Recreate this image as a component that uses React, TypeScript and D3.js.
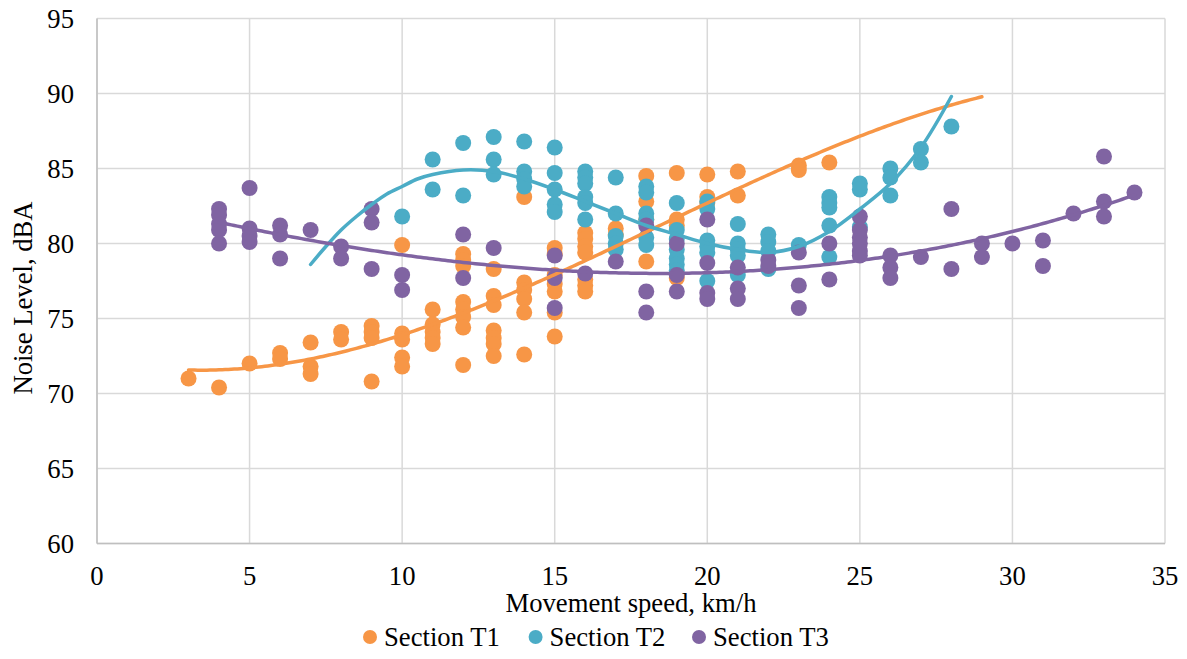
import React from "react";
import * as d3 from "d3";

// ---------- data ----------
const seriesNames = ["Section T1", "Section T2", "Section T3"];
const seriesColors = ["#F79646", "#4BACC6", "#8064A2"];

const t1Speeds = [3, 4, 5, 6, 7, 8, 9, 10, 11, 12, 13, 14, 15, 16, 17, 18, 19, 20, 21, 23, 24];
const t1Levels = [
  [71.0], [70.4], [72.0], [72.7, 72.3], [73.4, 71.8, 71.3], [74.1, 73.6],
  [74.5, 74.1, 73.7, 70.8], [79.9, 74.0, 73.6, 72.4, 71.8], [75.6, 74.6, 74.1, 73.7, 73.3],
  [79.3, 78.9, 78.5, 76.1, 75.6, 75.1, 74.4, 71.9], [78.3, 76.5, 75.9, 74.2, 73.7, 73.3, 72.5],
  [83.1, 77.4, 76.9, 76.3, 75.4, 72.6], [79.7, 79.3, 77.9, 77.3, 76.8, 75.4, 73.8],
  [80.7, 80.3, 79.8, 79.4, 77.6, 77.2, 76.8], [81.0, 80.6], [84.5, 82.8, 81.6, 78.8],
  [84.7, 81.6, 81.2, 77.7], [84.6, 83.1, 82.7], [84.8, 83.2], [85.2, 84.9], [85.4],
];

const t2Speeds = [10, 11, 12, 13, 14, 15, 16, 17, 18, 19, 20, 21, 22, 23, 24, 25, 26, 27, 28];
const t2Levels = [
  [81.8], [85.6, 83.6], [86.7, 83.2], [87.1, 85.6, 84.6], [86.8, 84.8, 84.3, 83.8],
  [86.4, 84.7, 83.6, 82.6, 82.1], [84.8, 84.4, 84.0, 83.1, 82.7, 81.6],
  [84.4, 82.0, 80.5, 80.0, 79.6], [83.8, 83.4, 82.0, 81.6, 80.4, 79.9],
  [82.7, 80.9, 80.3, 79.6, 79.0, 78.6, 78.2], [82.8, 82.3, 80.2, 79.8, 79.4, 77.5],
  [81.3, 80.0, 79.6, 79.2, 77.9], [80.6, 80.1, 79.5, 78.3], [79.9],
  [83.1, 82.7, 82.4, 81.2, 79.1], [84.0, 83.6, 81.1], [85.0, 84.4, 83.2], [86.3, 85.4], [87.8],
];

const t3Speeds = [4, 5, 6, 7, 8, 9, 10, 12, 13, 15, 16, 17, 18, 19, 20, 21, 22, 23, 24, 25, 26, 27, 28, 29, 30, 31, 32, 33, 34];
const t3Levels = [
  [82.3, 81.9, 81.3, 80.9, 80.0], [83.7, 81.0, 80.5, 80.1], [81.2, 80.6, 79.0], [80.9],
  [79.8, 79.0], [82.3, 81.4, 78.3], [77.9, 76.9], [80.6, 77.7], [79.7], [79.2, 77.7, 75.7],
  [78.0], [78.8], [81.2, 76.8, 75.4], [80.0, 77.9, 76.8], [81.6, 78.7, 76.7, 76.3],
  [78.4, 77.0, 76.3], [78.9, 78.5], [79.4, 77.2, 75.7], [80.0, 77.6],
  [81.8, 80.9, 80.4, 80.0, 79.5, 79.2], [79.2, 78.4, 77.7], [79.1], [82.3, 78.3],
  [80.0, 79.1], [80.0], [80.2, 78.5], [82.0], [85.8, 82.8, 81.8], [83.4],
];

// polynomial trendlines for T1 and T3 (fitted from the points)
const trendOrders = [3, 0, 3];
const trendFrom = [3, 7, 4];
const trendTo = [29, 28, 34];

// T2 trendline
const t2TrendSpeeds = [7, 7.5, 8, 8.5, 9, 9.5, 10, 10.5, 11, 12, 13, 14, 15, 16, 17, 18, 19, 20, 21, 22, 23, 24, 25, 26, 27, 28];
const t2TrendLevels = [78.6, 79.8, 80.9, 81.8, 82.6, 83.3, 83.8, 84.3, 84.6, 84.9, 84.8, 84.3, 83.6, 82.8, 82.0, 81.2, 80.6, 80.0, 79.6, 79.4, 79.8, 80.8, 82.3, 84.0, 86.4, 89.8];

const xTicks = [0, 5, 10, 15, 20, 25, 30, 35];
const yTicks = [60, 65, 70, 75, 80, 85, 90, 95];
const xTitle = "Movement speed, km/h";
const yTitle = "Noise Level, dBA";

// ---------- helpers ----------
function flatten(speeds: number[], levels: number[][]) {
  const pts: [number, number][] = [];
  speeds.forEach((s, i) => levels[i].forEach((v) => pts.push([s, v])));
  return pts;
}

function polyfit(pts: [number, number][], order: number) {
  const xm = d3.mean(pts, (p) => p[0]) as number;
  const xs = (d3.deviation(pts, (p) => p[0]) as number) || 1;
  const n = order + 1;
  const A: number[][] = Array.from({ length: n }, () => new Array(n + 1).fill(0));
  for (const [x0, y] of pts) {
    const x = (x0 - xm) / xs;
    const pw: number[] = [];
    for (let k = 0; k < 2 * n; k++) pw.push(Math.pow(x, k));
    for (let r = 0; r < n; r++) {
      for (let c = 0; c < n; c++) A[r][c] += pw[r + c];
      A[r][n] += pw[r] * y;
    }
  }
  for (let c = 0; c < n; c++) {
    let piv = c;
    for (let r = c + 1; r < n; r++) if (Math.abs(A[r][c]) > Math.abs(A[piv][c])) piv = r;
    [A[c], A[piv]] = [A[piv], A[c]];
    for (let r = 0; r < n; r++) {
      if (r === c) continue;
      const f = A[r][c] / A[c][c];
      for (let k = c; k <= n; k++) A[r][k] -= f * A[c][k];
    }
  }
  const coef = A.map((row, i) => row[n] / row[i]);
  return (x0: number) => {
    const x = (x0 - xm) / xs;
    let s = 0;
    for (let k = 0; k < n; k++) s += coef[k] * Math.pow(x, k);
    return s;
  };
}

// ---------- layout ----------
const W = 1187;
const H = 659;
const FONT = "'Liberation Serif', 'Times New Roman', 'DejaVu Serif', serif";

export default function App() {
  const x = d3.scaleLinear().domain([0, 35]).range([97, 1165]);
  const y = d3.scaleLinear().domain([60, 95]).range([543.5, 18.5]);

  const series = [
    flatten(t1Speeds, t1Levels),
    flatten(t2Speeds, t2Levels),
    flatten(t3Speeds, t3Levels),
  ];

  const line = d3
    .line<[number, number]>()
    .x((d) => x(d[0]))
    .y((d) => y(d[1]));

  const trends = series.map((pts, i) => {
    if (i === 1) {
      const smooth = d3
        .line<[number, number]>()
        .x((d) => x(d[0]))
        .y((d) => y(d[1]))
        .curve(d3.curveCatmullRom.alpha(0.5));
      return smooth(t2TrendSpeeds.map((s, k) => [s, t2TrendLevels[k]] as [number, number])) as string;
    }
    const f = polyfit(pts, trendOrders[i]);
    const samples: [number, number][] = d3
      .range(trendFrom[i], trendTo[i] + 0.0001, 0.1)
      .map((v) => [v, f(v)]);
    return line(samples) as string;
  });

  const legendX = [370, 535.6, 699];

  return (
    <div style={{ position: "absolute", left: 0, top: 0 }}>
      <svg width={W} height={H} style={{ display: "block", background: "#fff", fontFamily: FONT }}>
        {/* gridlines */}
        {yTicks.map((t) => (
          <line key={"gy" + t} x1={x(0)} x2={x(35)} y1={y(t)} y2={y(t)} stroke="#D9D9D9" strokeWidth={1.5} />
        ))}
        {xTicks.map((t) => (
          <line key={"gx" + t} x1={x(t)} x2={x(t)} y1={y(60)} y2={y(95)} stroke="#D9D9D9" strokeWidth={1.5} />
        ))}
        {/* axes */}
        <line x1={x(0)} x2={x(0)} y1={y(60)} y2={y(95)} stroke="#BFBFBF" strokeWidth={1.5} />
        <line x1={x(0)} x2={x(35)} y1={y(60)} y2={y(60)} stroke="#BFBFBF" strokeWidth={1.5} />

        {/* tick labels */}
        {yTicks.map((t) => (
          <text key={"ly" + t} x={74} y={y(t)} dy="0.34em" textAnchor="end" fontSize={26.67} fill="#000">
            {t}
          </text>
        ))}
        {xTicks.map((t) => (
          <text key={"lx" + t} x={x(t)} y={585} textAnchor="middle" fontSize={26.67} fill="#000">
            {t}
          </text>
        ))}

        {/* axis titles */}
        <text x={(x(0) + x(35)) / 2} y={612} textAnchor="middle" fontSize={26.67} fill="#000">
          {xTitle}
        </text>
        <text transform="translate(32,298) rotate(-90)" textAnchor="middle" fontSize={26.67} fill="#000">
          {yTitle}
        </text>

        {/* markers */}
        {series.map((pts, i) => (
          <g key={"s" + i} fill={seriesColors[i]}>
            {pts.map((p, j) => (
              <circle key={j} cx={x(p[0])} cy={y(p[1])} r={8} />
            ))}
          </g>
        ))}

        {/* trendlines */}
        {trends.map((d, i) => (
          <path key={"t" + i} d={d} fill="none" stroke={seriesColors[i]} strokeWidth={3.5} strokeLinecap="round" />
        ))}

        {/* legend */}
        {seriesNames.map((name, i) => (
          <g key={"lg" + i}>
            <circle cx={legendX[i]} cy={637} r={7} fill={seriesColors[i]} />
            <text x={legendX[i] + 14} y={646} fontSize={26.67} fill="#000">
              {name}
            </text>
          </g>
        ))}
      </svg>
    </div>
  );
}
